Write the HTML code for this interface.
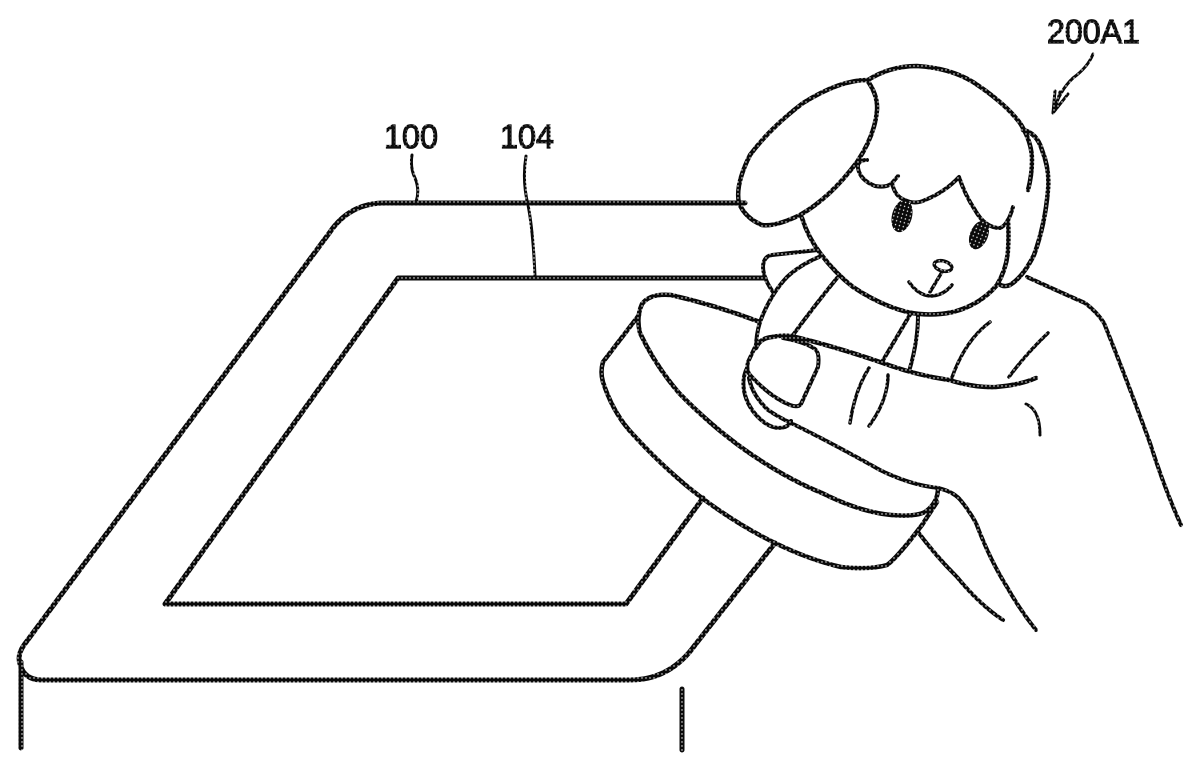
<!DOCTYPE html>
<html><head><meta charset="utf-8"><style>
html,body{margin:0;padding:0;background:#fff}
svg{display:block}
</style></head><body>
<svg width="1200" height="770" viewBox="0 0 1200 770" xmlns="http://www.w3.org/2000/svg">
<defs>
<pattern id="p" width="4" height="4" patternUnits="userSpaceOnUse"><rect width="4" height="4" fill="#0a0a0a"/><circle cx="2" cy="2" r="0.7" fill="#fff"/></pattern>
</defs>
<g fill="none" stroke="url(#p)" stroke-width="4.5" stroke-linecap="round" stroke-linejoin="round">
<!-- tablet -->
<path stroke-width="5" d="M745 203H385Q350 203 330 232L24 645Q17 655 20 664Q24 680 42 680H630Q670 680 695 645L775 543"/>
<path stroke-width="5" d="M21 662V748M682 689V750"/>
<path stroke-width="5" d="M765 278H398L165 604H626L703 498"/>
<!-- leaders -->
<path stroke-width="3" d="M412 155Q410 168 415 178Q420 190 416 202M526 156Q522 180 528 205Q533 230 535 276"/>
<path stroke-width="3" d="M1093 54Q1088 67 1073 78Q1060 90 1053 112M1055 91L1053 113L1068 94M1060 92L1055 110"/>
<!-- ear -->
<path d="M867 80Q878 95 877 110Q875 135 857 162Q830 198 800 215Q775 227 762 225Q745 218 739 203Q735 185 750 155Q770 128 803 103Q840 80 867 80Z"/>
<!-- head -->
<path d="M868 80Q890 66 917 66Q950 68 973 82Q1005 103 1020 123Q1032 142 1032 160Q1032 175 1028 190"/>
<path d="M1023 130Q1037 133 1042 150Q1050 170 1048 190Q1045 225 1034 255Q1023 277 1010 285Q1003 288 998 283"/>
<path d="M802 218Q808 237 820 253Q835 273 853 287Q880 305 907 312Q930 317 953 312Q980 305 997 285Q1007 268 1008 250Q1009 235 1008 220"/>
<!-- bangs -->
<path stroke-width="4" d="M867 160Q857 160 858 168Q860 180 875 186Q887 188 892 183L898 176M892 183Q895 197 905 200Q915 205 925 200Q945 192 959 177Q965 195 975 210Q985 228 1000 228Q1008 225 1013 207"/>
<!-- eyes -->
<g fill="url(#p)" stroke="none">
<ellipse cx="902" cy="216" rx="10" ry="16.5" transform="rotate(15 902 216)"/>
<ellipse cx="979" cy="235" rx="9" ry="15" transform="rotate(22 979 235)"/>
</g>
<!-- nose & mouth -->
<g stroke-width="3.5">
<ellipse cx="943" cy="266" rx="9" ry="5" transform="rotate(15 943 266)"/>
<path d="M942 272L930 292M909 282Q918 295 930 296Q943 296 952 285"/>
</g>
<!-- clothes -->
<path stroke-width="4" d="M818 250L772 255Q764 256 763 266Q763 278 773 292"/>
<path stroke-width="4" d="M819 257Q800 265 787 277Q770 295 760 322Q756 335 756 348"/>
<path stroke-width="4" d="M837 278Q815 305 793 335"/>
<path stroke-width="4" d="M911 313L882 362M918 315Q918 340 910 368"/>
<path stroke-width="3.5" d="M990 322Q965 340 951 380M1048 333Q1025 355 1009 377"/>
<path stroke-width="3.5" d="M869 368Q855 390 850 423M888 375Q888 400 869 426"/>
<path stroke-width="3" d="M1026 404Q1040 410 1040 435"/>
<!-- body -->
<path stroke-width="4" d="M1027 277Q1060 292 1085 303Q1097 312 1104 323Q1125 375 1150 443Q1165 490 1181 525"/>
<!-- cuff -->
<path d="M760 322Q715 305 671 295Q650 293 642 304Q636 317 640 333Q655 365 679 393Q710 425 745 450Q785 478 822 493Q860 512 891 515Q915 517 925 512Q938 503 938 488"/>
<path d="M639 315L603 362Q600 372 603 382Q612 410 629 430Q665 470 702 498Q738 525 775 543Q810 560 841 567Q870 570 887 565Q897 558 922 525L937 502"/>
<!-- fingers -->
<path d="M756 348Q760 338 772 337Q781 335 791 336Q830 345 880 362Q915 375 949 380Q975 388 996 387Q1020 385 1036 378"/>
<path stroke-width="4" d="M783 338Q805 342 815 349Q820 353 818 367L801 404Q798 408 790 405Q770 397 750 375Q746 370 748 362L756 345"/>
<path stroke-width="4" d="M747 368Q741 380 745 395Q750 412 765 423Q775 430 785 427Q790 425 791 421"/>
<path stroke-width="4" d="M749 378Q752 395 768 410Q780 418 791 423Q830 442 880 470Q910 485 938 488Q955 492 962 502Q970 512 976 523Q990 560 1007 587Q1020 610 1036 630"/>
<path stroke-width="4" d="M918 532Q935 555 957 577Q980 605 1003 620"/>
</g>
<g font-family="'Liberation Sans',sans-serif" font-size="33" fill="#111" stroke="url(#p)" stroke-width="1.2">
<text x="384" y="148" textLength="54" lengthAdjust="spacingAndGlyphs">100</text>
<text x="500" y="148" textLength="54" lengthAdjust="spacingAndGlyphs">104</text>
<text x="1047" y="43" textLength="93" lengthAdjust="spacingAndGlyphs">200A1</text>
</g>
</svg>
</body></html>
